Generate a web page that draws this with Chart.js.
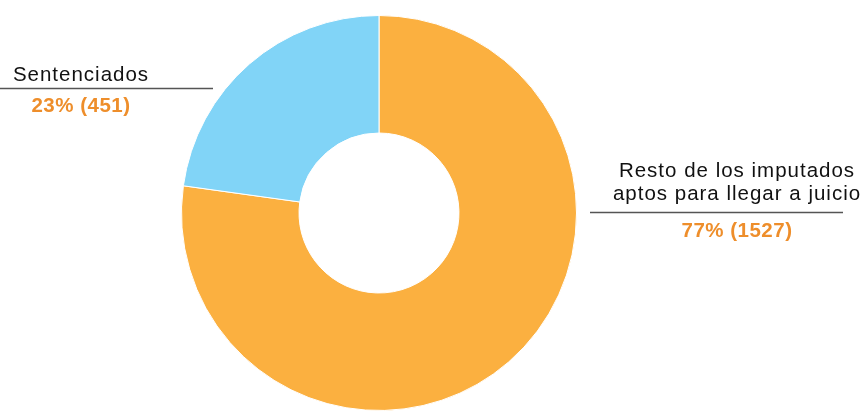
<!DOCTYPE html>
<html>
<head>
<meta charset="utf-8">
<script src="https://cdn.jsdelivr.net/npm/chart.js@4"></script>
<style>
  html, body { margin: 0; padding: 0; background: #fff; }
  #wrap { position: relative; width: 863px; height: 411px; }
</style>
</head>
<body>
<div id="wrap"><canvas id="donut_chart" width="863" height="411"></canvas></div>
<script>
const categories = ['Resto de los imputados aptos para llegar a juicio', 'Sentenciados']
const values = [1527, 451]
const slice_colors = ['#FBB040', '#81D4F7']

// label blocks drawn next to the ring
const label_lines = [
    ['Resto de los imputados', 'aptos para llegar a juicio'],
    ['Sentenciados']
]
const label_boxes = [
    { cx: 737, firstBaseline: 177, lineGap: 23, ruleY: 212.5, ruleX0: 590, ruleX1: 843, pctBaseline: 237 },
    { cx: 81, firstBaseline: 81, lineGap: 23, ruleY: 88.5, ruleX0: 0, ruleX1: 213, pctBaseline: 112 }
]

const total = values.reduce((a, b) => a + b, 0)

const side_labels = {
    id: 'side_labels',
    afterDraw(chart) {
        const ctx = chart.ctx
        ctx.save()
        label_boxes.forEach((box, i) => {
            ctx.textAlign = 'center'
            ctx.textBaseline = 'alphabetic'
            ctx.fillStyle = '#111'
            ctx.font = '20.5px "Liberation Sans", Arial, sans-serif'
            ctx.letterSpacing = '1px'
            label_lines[i].forEach((line, j) => {
                ctx.fillText(line, box.cx, box.firstBaseline + j * box.lineGap)
            })
            ctx.strokeStyle = '#555'
            ctx.lineWidth = 1.3
            ctx.beginPath()
            ctx.moveTo(box.ruleX0, box.ruleY)
            ctx.lineTo(box.ruleX1, box.ruleY)
            ctx.stroke()
            const pct = Math.round(values[i] / total * 100)
            ctx.fillStyle = '#EE8E2B'
            ctx.font = 'bold 20.5px "Liberation Sans", Arial, sans-serif'
            ctx.letterSpacing = '0.5px'
            ctx.fillText(pct + '% (' + values[i] + ')', box.cx, box.pctBaseline)
        })
        ctx.restore()
    }
}

window.onload = function() {
    const ctx = document.getElementById('donut_chart').getContext('2d')
    new Chart(ctx, {
        type: 'doughnut',
        data: {
            labels: categories,
            datasets: [{
                data: values,
                backgroundColor: slice_colors,
                borderColor: '#fff',
                borderWidth: 1
            }]
        },
        options: {
            responsive: false,
            animation: false,
            cutout: '40.5%',
            layout: { padding: { top: 15, bottom: 0, left: 181, right: 286 } },
            plugins: {
                legend: { display: false },
                tooltip: { enabled: false }
            }
        },
        plugins: [side_labels]
    })
}
</script>
</body>
</html>
